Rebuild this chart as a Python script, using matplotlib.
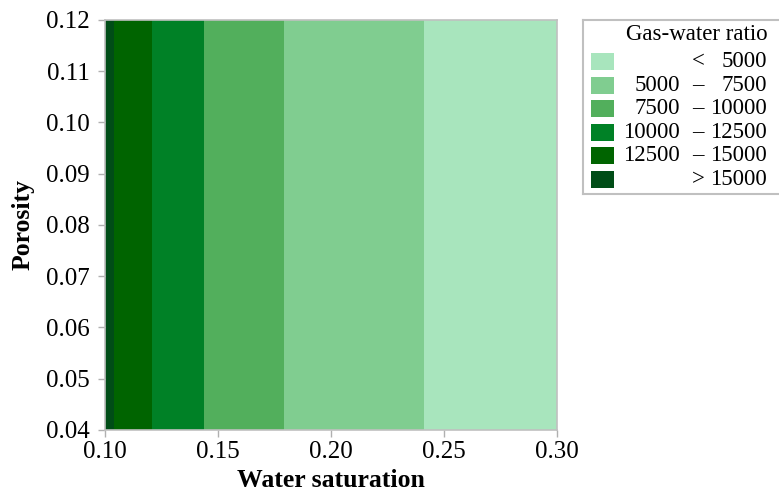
import numpy as np
import matplotlib
matplotlib.use("Agg")
import matplotlib.pyplot as plt
from matplotlib.patches import Rectangle

# Gas-water ratio sampled along water saturation (constant across porosity)
water_saturation = [0.100, 0.104, 0.121, 0.144, 0.179, 0.241, 0.300]
gas_water_ratio = [16500, 15000, 12500, 10000, 7500, 5000, 3400]
porosity = [0.04, 0.12]

# Contour class boundaries and fill colours (light -> dark)
levels = [0, 5000, 7500, 10000, 12500, 15000, 1e9]
band_colors = ["#a8e5bd", "#80cd90", "#52af5c", "#008126", "#006400", "#004d17"]

x_ticks = [0.10, 0.15, 0.20, 0.25, 0.30]
y_ticks = [0.04, 0.05, 0.06, 0.07, 0.08, 0.09, 0.10, 0.11, 0.12]

plt.rcParams["font.family"] = ["Liberation Serif", "DejaVu Serif"]

W, H = 779, 494
fig = plt.figure(figsize=(W / 100, H / 100), dpi=100)
ax = fig.add_axes([105 / W, 1 - 430 / H, (557 - 105) / W, (430 - 20) / H])

X, Y = np.meshgrid(water_saturation, porosity)
Z = np.tile(gas_water_ratio, (len(porosity), 1))
ax.contourf(X, Y, Z, levels=levels, colors=band_colors, antialiased=True)

ax.set_xlim(0.10, 0.30)
ax.set_ylim(0.04, 0.12)
ax.set_xticks(x_ticks)
ax.set_yticks(y_ticks)
ax.set_xticklabels([f"{v:.2f}" for v in x_ticks])
ax.set_yticklabels([f"{v:.2f}" for v in y_ticks])
ax.tick_params(direction="out", length=5, width=1, color="#b0b0b0",
               labelsize=18, pad=3)
ax.tick_params(axis="y", pad=6)
for s in ax.spines.values():
    s.set_color("#c0c0c0")
    s.set_linewidth(1.2)

ax.set_xlabel("Water saturation", fontsize=18.5, fontweight="bold", labelpad=4)
ax.set_ylabel("Porosity", fontsize=18.5, fontweight="bold", labelpad=8)

# Legend panel drawn in its own axes (pixel-like coordinates)
lg = fig.add_axes([583 / W, 1 - 194 / H, 205 / W, (194 - 20) / H])
lg.set_xlim(583, 788)
lg.set_ylim(194, 20)
lg.set_xticks([])
lg.set_yticks([])
lg.set_facecolor("white")
for s in lg.spines.values():
    s.set_color("#c0c0c0")
    s.set_linewidth(1.5)

fs = 16.5
lg.text(697, 35, "Gas-water ratio", fontsize=fs, ha="center", va="center")
row_y = [62, 85.5, 109, 132.5, 156, 180]
for i, yc in enumerate(row_y):
    lg.add_patch(Rectangle((591, yc - 8.5), 23, 17, facecolor=band_colors[i],
                           edgecolor="none"))
    lo, hi = levels[i], levels[i + 1]
    if i == 0:
        lg.text(698, yc, "<", fontsize=fs, ha="center", va="center")
        lg.text(767, yc, f"{hi:d}", fontsize=fs, ha="right", va="center")
    elif i == len(row_y) - 1:
        lg.text(698, yc, ">", fontsize=fs, ha="center", va="center")
        lg.text(767, yc, f"{lo:d}", fontsize=fs, ha="right", va="center")
    else:
        lg.text(680, yc, f"{lo:d}", fontsize=fs, ha="right", va="center")
        lg.text(698, yc, "\u2013", fontsize=fs, ha="center", va="center")
        lg.text(767, yc, f"{hi:d}", fontsize=fs, ha="right", va="center")

fig.savefig("out.png", dpi=100)
